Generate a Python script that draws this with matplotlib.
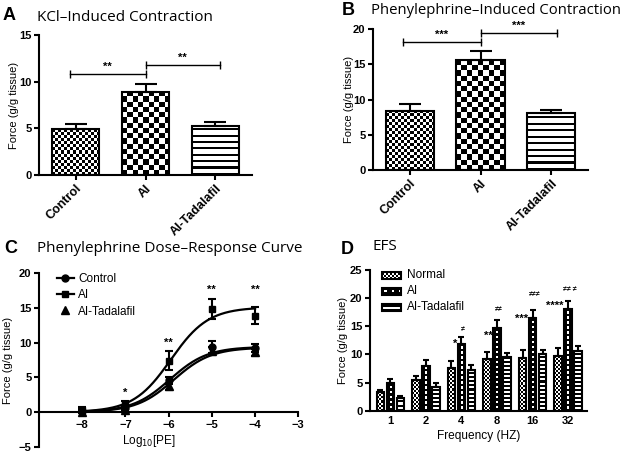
import numpy as np
import matplotlib
matplotlib.use('Agg')
import matplotlib.pyplot as plt
from matplotlib.lines import Line2D
from matplotlib.patches import Rectangle

plt.rcParams['font.family'] = ['Liberation Sans', 'DejaVu Sans']
plt.rcParams['axes.linewidth'] = 1.5
plt.rcParams['xtick.major.width'] = 1.5
plt.rcParams['ytick.major.width'] = 1.5
plt.rcParams['xtick.major.size'] = 3.5
plt.rcParams['ytick.major.size'] = 3.5
plt.rcParams['xtick.major.pad'] = 2
plt.rcParams['ytick.major.pad'] = 2

W, H = 623, 458
TITLE_FONT = ['Open Sans', 'DejaVu Sans']

# A: KCl-induced contraction
groups = ['Control', 'AI', 'AI-Tadalafil']
kcl_mean = [4.9, 8.9, 5.25]
kcl_err = [0.6, 0.85, 0.45]
kcl_sig = [(-0.08, 1, 10.8, '**'), (1, 2.06, 11.8, '**')]

# B: phenylephrine-induced contraction
pe_mean = [8.4, 15.6, 8.1]
pe_err = [0.9, 1.3, 0.45]
pe_sig = [(-0.1, 1, 18.2, '***'), (1, 2.08, 19.4, '***')]

# C: dose-response
log_pe = [-8, -7, -6, -5, -4]
ctrl_dr = [0.1, 0.6, 4.6, 9.4, 9.2]
ctrl_dr_err = [0.3, 0.3, 0.5, 0.9, 0.6]
ai_dr = [0.3, 1.2, 7.4, 14.8, 13.9]
ai_dr_err = [0.4, 0.4, 1.4, 1.45, 1.25]
tad_dr = [0.0, 0.3, 3.7, 8.8, 8.6]
tad_dr_err = [0.2, 0.2, 0.5, 0.6, 0.5]
# sigmoid fits: bottom, top, logEC50, hill slope
ctrl_fit = [0.0, 9.4, -5.97, 1.0]
ai_fit = [0.0, 15.1, -5.95, 1.0]
tad_fit = [0.0, 9.3, -5.88, 1.0]
dr_star_x = [-7, -6, -5, -4]
dr_star_y = [2.7, 10.0, 17.6, 17.6]
dr_stars = ['*', '**', '**', '**']

# D: EFS
freqs = ['1', '2', '4', '8', '16', '32']
efs_normal = [3.25, 5.45, 7.6, 9.1, 9.3, 9.7]
efs_normal_err = [0.45, 0.7, 1.2, 1.3, 1.5, 1.4]
efs_ai = [4.85, 7.9, 11.8, 14.7, 16.5, 18.1]
efs_ai_err = [0.75, 1.1, 1.3, 1.5, 1.4, 1.4]
efs_tad = [2.25, 4.25, 7.2, 9.5, 10.0, 10.6]
efs_tad_err = [0.45, 0.6, 0.9, 0.8, 0.8, 0.9]
efs_stars = ['', '', '*', '**', '***', '****']
efs_stars_y = [0, 0, 11.9, 13.3, 16.3, 18.7]
efs_neq = ['', '', '\u2260', '\u2260\u2260', '\u2260\u2260\u2260', '\u2260\u2260 \u2260']
efs_neq_y = [0, 0, 14.4, 17.9, 20.6, 21.5]

# fill tiles, 1 = white
CHECK = [[0, 1], [1, 0]]
HLINES = [[0], [1], [1]]
WINDOW = [[0, 0, 0], [0, 1, 0]]
DLINES = [[0], [1]]


def box(l, t, r, b):
    return [l / W, 1 - b / H, (r - l) / W, (b - t) / H]


def texture(ax, x0, y0, x1, y1, tile, cell, trans=None):
    # fill a rectangle with a repeated black/white tile, cell size in pixels
    if trans is None:
        trans = ax.transData
    (px0, py0), (px1, py1) = trans.transform([(x0, y0), (x1, y1)])
    nx = max(1, int(round(abs(px1 - px0) / cell)))
    ny = max(1, int(round(abs(py1 - py0) / cell)))
    tile = np.array(tile)
    reps = (ny // tile.shape[0] + 1, nx // tile.shape[1] + 1)
    img = np.tile(tile, reps)[:ny, :nx]
    ax.imshow(img, extent=(x0, x1, y0, y1), origin='lower', cmap='gray',
              vmin=0, vmax=1, interpolation='nearest', aspect='auto',
              transform=trans, zorder=2)


def draw_bars(ax, x, mean, err, width, fills, capsize):
    for xi, m, (tile, cell) in zip(x, mean, fills):
        texture(ax, xi - width / 2, 0, xi + width / 2, m, tile, cell)
    ax.bar(x, mean, width, fill=False, edgecolor='k', lw=1.5, zorder=3)
    ax.errorbar(x, mean, yerr=[np.zeros(len(err)), err], fmt='none',
                ecolor='k', elinewidth=1.5, capsize=capsize, capthick=1.5,
                zorder=4)


def bold_ticks(ax):
    for t in ax.get_xticklabels() + ax.get_yticklabels():
        t.set_fontweight('bold')


def bar_panel(ax, mean, err, ymax, sig):
    x = np.arange(len(groups))
    ax.set_xlim(-0.52, 2.52)
    ax.set_ylim(0, ymax)
    ax.spines[['top', 'right']].set_visible(False)
    draw_bars(ax, x, mean, err, 0.68,
              [(CHECK, 3.0), (CHECK, 5.3), (HLINES, 2.1)], 8)
    for x1, x2, y, s in sig:
        ax.plot([x1, x2], [y, y], color='k', lw=1, marker='|', ms=6, mew=1)
        ax.text((x1 + x2) / 2, y + ymax * 0.015, s, ha='center', va='bottom',
                fontsize=8, fontweight='bold')
    ax.set_xticks(x)
    ax.set_xticklabels(groups, rotation=45, ha='right', rotation_mode='anchor',
                       fontsize=9)
    ax.set_yticks(np.arange(0, ymax + 1, 5))
    ax.tick_params(axis='y', labelsize=8)
    bold_ticks(ax)
    ax.set_ylabel('Force (g/g tissue)', fontsize=8)


def sigmoid(x, p):
    bottom, top, ec50, hill = p
    return bottom + (top - bottom) / (1 + 10 ** ((ec50 - x) * hill))


def panel_label(x, y, letter):
    fig.text(x / W, 1 - y / H, letter, fontsize=13, fontweight='bold',
             va='baseline')


def panel_title(x, y, title, size=11):
    fig.text(x / W, 1 - y / H, title, fontsize=size, family=TITLE_FONT,
             va='baseline')


fig = plt.figure(figsize=(W / 100, H / 100), dpi=100)

# ---- A
ax_a = fig.add_axes(box(39.3, 35, 251.7, 175))
bar_panel(ax_a, kcl_mean, kcl_err, 15, kcl_sig)
ax_a.yaxis.set_label_coords(-0.095, 0.5)
panel_label(3, 20, 'A')
panel_title(37, 21, 'KCl\u2013Induced Contraction')

# ---- B
ax_b = fig.add_axes(box(373, 29, 588, 170))
bar_panel(ax_b, pe_mean, pe_err, 20, pe_sig)
ax_b.yaxis.set_label_coords(-0.09, 0.5)
panel_label(342, 15, 'B')
panel_title(371, 13.5, 'Phenylephrine\u2013Induced Contraction', 10.7)

# ---- C
ax_c = fig.add_axes(box(39, 273.3, 298.3, 446.7))
ax_c.set_xlim(-9, -3)
ax_c.set_ylim(-5, 20)
ax_c.spines[['top', 'right']].set_visible(False)
ax_c.spines['bottom'].set_position(('data', 0))
xs = np.linspace(-8.05, -4, 200)
for fit in [ctrl_fit, ai_fit, tad_fit]:
    ax_c.plot(xs, sigmoid(xs, fit), color='k', lw=1.6, zorder=2)
ax_c.errorbar(log_pe, ctrl_dr, yerr=ctrl_dr_err, fmt='o', color='k', ms=5,
              elinewidth=1.5, capsize=3, capthick=1.5, zorder=3)
ax_c.errorbar(log_pe, ai_dr, yerr=ai_dr_err, fmt='s', color='k', ms=5,
              elinewidth=1.5, capsize=3, capthick=1.5, zorder=3)
ax_c.errorbar(log_pe, tad_dr, yerr=tad_dr_err, fmt='^', color='k', ms=6,
              elinewidth=1.5, capsize=3, capthick=1.5, zorder=3)
for x, y, s in zip(dr_star_x, dr_star_y, dr_stars):
    ax_c.text(x, y, s, ha='center', va='center', fontsize=8, fontweight='bold')
ax_c.set_xticks(range(-8, -2))
ax_c.set_yticks(range(-5, 21, 5))
ax_c.tick_params(labelsize=8)
bold_ticks(ax_c)
handles = [Line2D([], [], color='k', marker='o', ms=5, lw=1.6),
           Line2D([], [], color='k', marker='s', ms=5, lw=1.6),
           Line2D([], [], color='k', marker='^', ms=6, ls='none')]
ax_c.legend(handles, ['Control', 'AI', 'AI-Tadalafil'], loc='upper left',
            bbox_to_anchor=(0.07, 1.0), frameon=False, fontsize=8.5,
            handlelength=1.4, handletextpad=0.4, labelspacing=0.35,
            borderpad=0, borderaxespad=0)
ax_c.set_ylabel('Force (g/g tissue)', fontsize=8)
ax_c.yaxis.set_label_coords(-0.1, 0.5)
ax_c.text(0.424, 0.03, 'Log$_{10}$[PE]', transform=ax_c.transAxes,
          ha='center', va='center', fontsize=8.5)
panel_label(4, 253, 'C')
panel_title(37, 252, 'Phenylephrine Dose\u2013Response Curve')

# ---- D
ax_d = fig.add_axes(box(370, 270, 586.7, 410.7))
ax_d.set_xlim(-0.57, 5.52)
ax_d.set_ylim(0, 25)
ax_d.spines[['top', 'right']].set_visible(False)
g = np.arange(len(freqs))
bw = 0.21
draw_bars(ax_d, g - 0.28, efs_normal, efs_normal_err, bw, [(CHECK, 2.0)] * 6, 2.5)
draw_bars(ax_d, g, efs_ai, efs_ai_err, bw, [(WINDOW, 2.5)] * 6, 2.5)
draw_bars(ax_d, g + 0.28, efs_tad, efs_tad_err, bw, [(DLINES, 2.0)] * 6, 2.5)
for gi, s, y in zip(g, efs_stars, efs_stars_y):
    if s:
        ax_d.text(gi - 0.12, y, s, ha='right', va='center', fontsize=8,
                  fontweight='bold')
for gi, s, y in zip(g, efs_neq, efs_neq_y):
    if s:
        ax_d.text(gi + 0.05, y, s, ha='center', va='center', fontsize=5,
                  fontweight='bold')
ax_d.set_xticks(g)
ax_d.set_xticklabels(freqs, fontsize=8)
ax_d.tick_params(axis='x', length=0, pad=4)
ax_d.set_yticks(range(0, 26, 5))
ax_d.tick_params(axis='y', labelsize=8)
bold_ticks(ax_d)
ax_d.set_ylabel('Force (g/g tissue)', fontsize=8)
ax_d.yaxis.set_label_coords(-0.1, 0.5)
ax_d.set_xlabel('Frequency (HZ)', fontsize=8.6, labelpad=3)
# legend drawn by hand so the fills match the bars
leg = [('Normal', CHECK, 2.0), ('AI', WINDOW, 2.5), ('AI-Tadalafil', DLINES, 2.0)]
for i, (name, tile, cell) in enumerate(leg):
    yc = 0.962 - i * 0.113
    texture(ax_d, 0.054, yc - 0.025, 0.143, yc + 0.025, tile, cell, ax_d.transAxes)
    ax_d.add_patch(Rectangle((0.054, yc - 0.025), 0.089, 0.05, fill=False,
                             ec='k', lw=1.5, transform=ax_d.transAxes, zorder=3))
    ax_d.text(0.17, yc, name, transform=ax_d.transAxes, va='center', fontsize=8.5)
panel_label(341, 254, 'D')
panel_title(372, 250.5, 'EFS')

fig.savefig('out.png', dpi=100)
